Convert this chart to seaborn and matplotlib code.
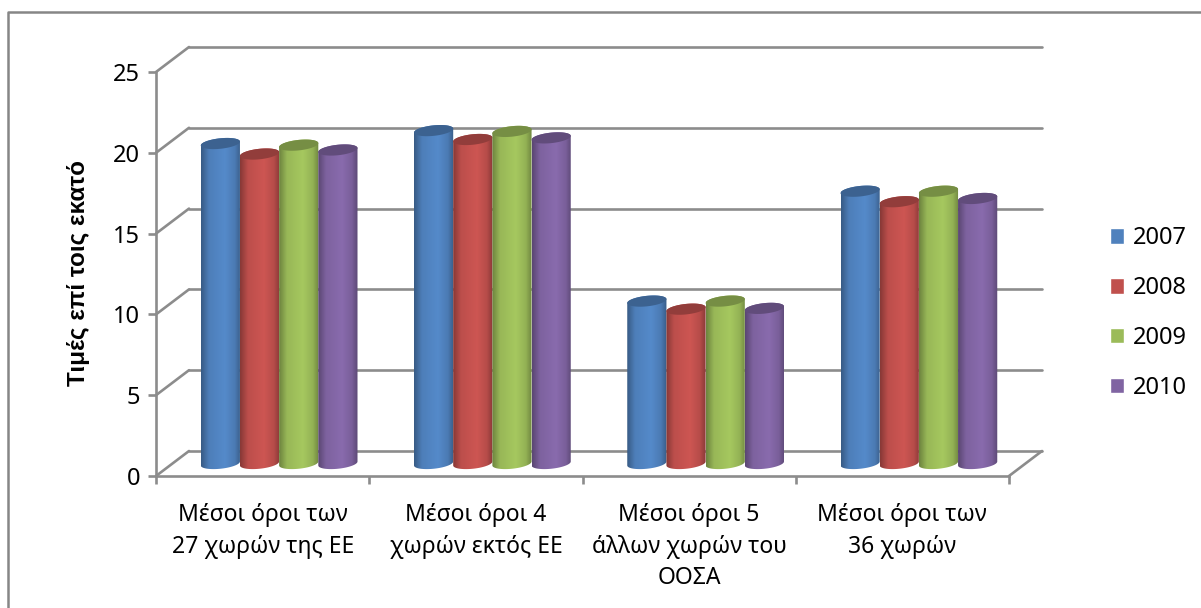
import numpy as np
import pandas as pd
import matplotlib
matplotlib.use("Agg")
import matplotlib.pyplot as plt
from matplotlib.colors import to_rgb, ListedColormap
from matplotlib.lines import Line2D
from matplotlib.patches import Polygon
from matplotlib.path import Path
from matplotlib.transforms import Affine2D
import seaborn as sns

categories = ["Μέσοι όροι των\n27 χωρών της ΕΕ",
              "Μέσοι όροι 4\nχωρών εκτός ΕΕ",
              "Μέσοι όροι 5\nάλλων χωρών του\nΟΟΣΑ",
              "Μέσοι όροι των\n36 χωρών"]
years = ["2007", "2008", "2009", "2010"]
values_2007 = [19.8, 20.6, 10.05, 16.85]
values_2008 = [19.15, 20.05, 9.55, 16.2]
values_2009 = [19.7, 20.55, 10.05, 16.85]
values_2010 = [19.4, 20.15, 9.6, 16.4]
series = [values_2007, values_2008, values_2009, values_2010]
colors = ["#4F81BD", "#C0504D", "#9BBB59", "#8064A2"]
y_ticks = [0, 5, 10, 15, 20, 25]

GRID = "#8C8C8C"
TEXT = "#000000"
FONT = "Noto Sans"

df = pd.DataFrame({
    "category": [c for c in categories for _ in years],
    "year": [y for i in range(len(categories)) for y in years],
    "value": [s[i] for i in range(len(categories)) for s in series],
})

sns.set_theme(style="white")
plt.rcParams["font.family"] = [FONT, "DejaVu Sans"]

W, H = 1201, 608
fig = plt.figure(figsize=(W / 100, H / 100), dpi=100, facecolor="white")
# Front plane of the box: x 156-1009, y 476 (zero) to 72 (top of scale).
ax = fig.add_axes([156 / W, 1 - 476 / H, (1009 - 156) / W, (476 - 72) / H])

sns.barplot(data=df, x="category", y="value", hue="year", hue_order=years,
            palette=colors, saturation=1, width=0.735, gap=0, dodge=True,
            ax=ax, legend=True, zorder=5)
ax.set_xlim(-0.5, 3.5)
ax.set_ylim(0, 25)

# The receding depth of the box, expressed in data units.
px_x = 4 / (1009 - 156)
px_y = 25 / (476 - 72)
depth_x, depth_y = 33 * px_x, 25 * px_y
x0, x1 = -0.5, 3.5

# Back wall, floor edges and the diagonal wall lines.
line_kw = dict(color=GRID, lw=1.9, clip_on=False, zorder=1, solid_capstyle="round")
for t in y_ticks:
    ax.add_line(Line2D([x0, x0 + depth_x], [t, t + depth_y], **line_kw))
    ax.add_line(Line2D([x0 + depth_x, x1 + depth_x], [t + depth_y, t + depth_y], **line_kw))
ax.add_line(Line2D([x1, x1 + depth_x], [0, depth_y], **line_kw))

# Cylinders sit halfway into the box depth; their ends are ellipses tipped
# slightly upward to the right by the chart's viewing angle.
inset = Affine2D().translate(depth_x / 2, depth_y / 2) + ax.transData
cap_h = 10.5 * px_y
tilt = 0.10 * px_y / px_x


def shade(color, stops):
    base = np.array(to_rgb(color))
    out = []
    for u in np.linspace(0, 1, 128):
        f = np.interp(u, [0, 0.2, 0.6, 0.85, 1], stops)
        out.append(np.clip(base * f, 0, 1))
    return ListedColormap(out)


def ring(center, w, level, a0, a1, n=60):
    angles = np.linspace(a0, a1, n)
    dx = w / 2 * np.cos(angles)
    return np.column_stack([center + dx, level + cap_h / 2 * np.sin(angles) + tilt * dx])


for j, container in enumerate(ax.containers):
    color = colors[j]
    order = 5 + j
    for bar in container:
        left, w, top = bar.get_x(), bar.get_width(), bar.get_height()
        mid = left + w / 2
        bar.set_transform(inset)
        bar.set_visible(False)

        # Body outline: top edge hidden under the cap, rounded foot.
        verts = np.vstack([ring(mid, w, 0, np.pi, 2 * np.pi),
                           ring(mid, w, top, 0, np.pi)])
        body = Path(np.vstack([verts, verts[0]]), closed=True)

        grad = np.linspace(0, 1, 128).reshape(1, -1)
        im = ax.imshow(grad, cmap=shade(color, [0.70, 0.98, 1.07, 0.95, 0.72]),
                       extent=[left, left + w, -2 * cap_h, top + 2 * cap_h], aspect="auto",
                       transform=inset, zorder=order, interpolation="bilinear")
        im.set_clip_path(body, transform=inset)
        ax.add_patch(Polygon(ring(mid, w, top, 0, 2 * np.pi), closed=True, transform=inset,
                             facecolor=np.array(to_rgb(color)) * 0.76, edgecolor="none",
                             zorder=order, clip_on=False))
ax.set_xlim(x0, x1)
ax.set_ylim(0, 25)

# Axis lines and ticks.
sns.despine(ax=ax, top=True, right=True)
for side in ("left", "bottom"):
    ax.spines[side].set_color(GRID)
    ax.spines[side].set_linewidth(1.9)
ax.set_yticks(y_ticks)
ax.set_xticks(range(len(categories)))
ax.set_xticklabels(categories, fontsize=16.5, color=TEXT, linespacing=1.42, va="top")
ax.set_xticks(np.arange(-0.5, 4), minor=True)
ax.tick_params(axis="x", which="major", length=0, pad=19.5)
ax.tick_params(axis="x", which="minor", length=6, width=1.9, color=GRID, bottom=True)
ax.tick_params(axis="y", length=6, width=1.9, color=GRID, labelsize=17,
               labelcolor=TEXT, pad=5.5, left=True)
ax.set_xlabel("")
ax.set_ylabel("Τιμές επί τοις εκατό", fontsize=17.5, fontweight="bold", color=TEXT,
              family=["Liberation Sans", "DejaVu Sans"])
ax.yaxis.set_label_coords((90 - 156) / (1009 - 156), (476 - 273) / (476 - 72))

# Legend to the right of the box.
handles, labels = ax.get_legend_handles_labels()
ax.legend_.remove()
leg = fig.legend(handles, labels, loc="center left",
                 bbox_to_anchor=(1109.5 / W, 1 - 313 / H), frameon=False,
                 fontsize=17, handlelength=0.635, handleheight=0.635,
                 handletextpad=0.35, labelspacing=1.09, borderpad=0, borderaxespad=0,
                 labelcolor=TEXT)

# Chart-area border, open at the right and bottom edges of the image.
fig.add_artist(Line2D([8 / W, 8 / W, 1], [0, 1 - 11.5 / H, 1 - 11.5 / H],
                      color="#868686", lw=1.8, transform=fig.transFigure))

fig.savefig("out.png", dpi=100, facecolor="white")
